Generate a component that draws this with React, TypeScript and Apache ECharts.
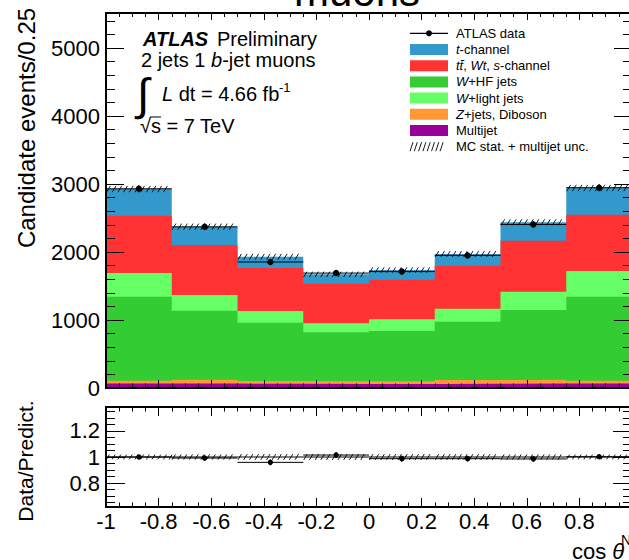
import React, { useEffect, useRef } from 'react';
import * as echarts from 'echarts';

const FONT = "'Liberation Sans', Arial, Helvetica, sans-serif";

// Bins of cos theta^N
const binLow = [-1, -0.75, -0.5, -0.25, 0, 0.25, 0.5, 0.75];
const binHigh = [-0.75, -0.5, -0.25, 0, 0.25, 0.5, 0.75, 1];

// Stacked MC components (bottom to top)
const multijet = [65, 65, 62, 60, 60, 62, 65, 65];
const zjetsDiboson = [40, 57, 40, 40, 40, 57, 57, 40];
const wHFJets = [1238, 1015, 858, 719, 738, 856, 1025, 1238];
const wLightJets = [348, 231, 172, 132, 172, 192, 270, 378];
const ttbarWtS = [843, 735, 633, 583, 583, 632, 750, 828];
const tChannel = [392, 270, 165, 138, 142, 172, 269, 392];

// MC stat + multijet uncertainty (absolute, events)
const mcUnc = [32, 30, 28, 25, 25, 28, 30, 32];

// Data
const atlasData = [2930, 2370, 1853, 1690, 1712, 1950, 2405, 2946];
const dataErr = [54, 49, 43, 41, 41, 44, 49, 54];

// Ratio panel
const ratio = [1.0, 0.992, 0.959, 1.015, 0.987, 0.987, 0.985, 1.002];
const ratioErr = [0.018, 0.021, 0.023, 0.024, 0.024, 0.022, 0.02, 0.018];

// Tick labels
const yTicksUpper = [0, 1000, 2000, 3000, 4000, 5000];
const yMinorUpper = Array.from({ length: 28 }, (_, i) => i * 200);
const yTicksLower = [0.8, 1, 1.2];
const yMinorLower = [0.65, 0.7, 0.75, 0.8, 0.85, 0.9, 0.95, 1, 1.05, 1.1, 1.15, 1.2, 1.25, 1.3, 1.35];

const COLORS = {
  tChannel: '#3399cc',
  ttbar: '#ff3333',
  wHF: '#33cc33',
  wLight: '#66ff66',
  zjets: '#ff9933',
  multijet: '#990099',
};

function App() {
  const ref = useRef<HTMLDivElement>(null);

  useEffect(() => {
    if (!ref.current) return;
    const chart = echarts.init(ref.current, null, { renderer: 'svg' });

    const parts = [multijet, zjetsDiboson, wHFJets, wLightJets, ttbarWtS, tChannel];
    const cum: number[][] = [];
    parts.forEach((p, k) => {
      cum.push(p.map((v, i) => v + (k > 0 ? cum[k - 1][i] : 0)));
    });
    const total = cum[cum.length - 1];

    const stepData = (vals: number[]) =>
      binLow.map((x, i) => [x, vals[i]]).concat([[binHigh[binHigh.length - 1], vals[vals.length - 1]]]);

    const areaSeries = (name: string, vals: number[], color: string) => ({
      name,
      type: 'line',
      xAxisIndex: 0,
      yAxisIndex: 0,
      step: 'end',
      data: stepData(vals),
      symbol: 'none',
      showSymbol: false,
      lineStyle: { width: 0, opacity: 0 },
      areaStyle: { color, opacity: 1 },
      silent: true,
      z: 2,
    });

    const hatchRender = (withCenter: boolean) => (params: any, api: any) => {
      const x0 = api.value(0), x1 = api.value(1), lo = api.value(2), hi = api.value(3);
      const a = api.coord([x0, lo]);
      const b = api.coord([x1, hi]);
      const left = a[0], right = b[0], bot = a[1], top = b[1];
      const h = bot - top + 2;
      const dx = Math.max(h * 0.6, 2.5);
      const children: any[] = [];
      for (let x = left + 0.5; x + dx <= right + 0.5; x += 5.7) {
        children.push({
          type: 'line',
          shape: { x1: x, y1: bot + 1, x2: x + dx, y2: top - 1 },
          style: { stroke: '#000', lineWidth: 0.9 },
        });
      }
      if (withCenter) {
        const c = api.coord([x0, (lo + hi) / 2]);
        children.push({
          type: 'line',
          shape: { x1: left, y1: c[1], x2: right, y2: c[1] },
          style: { stroke: '#000', lineWidth: 1 },
        });
      }
      return { type: 'group', children };
    };

    const pointRender = (r: number) => (params: any, api: any) => {
      const x0 = api.value(0), x1 = api.value(1), v = api.value(2), e = api.value(3);
      const xc = (x0 + x1) / 2;
      const c = api.coord([xc, v]);
      const l = api.coord([x0, v]);
      const rr = api.coord([x1, v]);
      const up = api.coord([xc, v + e]);
      const dn = api.coord([xc, v - e]);
      return {
        type: 'group',
        children: [
          { type: 'line', shape: { x1: l[0], y1: l[1], x2: rr[0], y2: rr[1] }, style: { stroke: '#000', lineWidth: 1 } },
          { type: 'line', shape: { x1: up[0], y1: up[1], x2: dn[0], y2: dn[1] }, style: { stroke: '#000', lineWidth: 1 } },
          { type: 'circle', shape: { cx: c[0], cy: c[1], r }, style: { fill: '#000' } },
        ],
      };
    };

    const xAx = (gridIndex: number, position: string, showLabel: boolean, len: number, minorLen: number) => ({
      type: 'value',
      gridIndex,
      position,
      min: -1,
      max: 1,
      interval: 0.2,
      axisLine: { show: true, onZero: false, lineStyle: { color: '#000', width: 2 } },
      axisTick: { show: true, inside: true, length: len, lineStyle: { color: '#000', width: 1 } },
      minorTick: { show: true, splitNumber: 4, length: minorLen, lineStyle: { color: '#000', width: 1 } },
      splitLine: { show: false },
      minorSplitLine: { show: false },
      axisLabel: {
        show: showLabel,
        fontSize: 22,
        color: '#000',
        fontFamily: FONT,
        margin: 3,
        showMaxLabel: false,
        showMinLabel: true,
        formatter: (v: number) => String(Math.round(v * 10) / 10),
      },
      z: 10,
    });

    const yAx = (
      gridIndex: number,
      position: string,
      min: number,
      max: number,
      ticks: number[],
      len: number,
      showLabel: boolean,
    ) => ({
      type: 'value',
      gridIndex,
      position,
      min,
      max,
      axisLine: { show: true, onZero: false, lineStyle: { color: '#000', width: 2 } },
      axisTick: { show: true, inside: true, length: len, customValues: ticks, lineStyle: { color: '#000', width: 1 } },
      axisLabel: {
        show: showLabel,
        customValues: ticks,
        fontSize: 22,
        color: '#000',
        fontFamily: FONT,
        margin: 6,
        formatter: (v: number) => String(v),
      },
      splitLine: { show: false },
      z: 10,
    });

    const UP_MAX = 5515;
    const LO_MIN = 0.617;
    const LO_MAX = 1.383;

    const txt = (x: number, y: number, text: string, size: number, extra: any = {}) => ({
      type: 'text',
      x,
      y,
      z: 100,
      style: {
        text,
        fontSize: size,
        fontFamily: FONT,
        fill: '#000',
        align: 'left',
        verticalAlign: 'middle',
        ...extra,
      },
    });

    const italicRich = (size: number) => ({
      i: { fontStyle: 'italic', fontSize: size, fontFamily: FONT, fill: '#000' },
    });

    const legendItems = [
      { label: 'ATLAS data', kind: 'data' },
      { label: '{i|t}-channel', kind: 'box', color: COLORS.tChannel },
      { label: '{i|tt\u0304}, {i|Wt}, {i|s}-channel', kind: 'box', color: COLORS.ttbar },
      { label: '{i|W}+HF jets', kind: 'box', color: COLORS.wHF },
      { label: '{i|W}+light jets', kind: 'box', color: COLORS.wLight },
      { label: '{i|Z}+jets, Diboson', kind: 'box', color: COLORS.zjets },
      { label: 'Multijet', kind: 'box', color: COLORS.multijet },
      { label: 'MC stat. + multijet unc.', kind: 'hatch' },
    ];
    const legendEls: any[] = [];
    legendItems.forEach((it, i) => {
      const yc = 33.3 + 16.2 * i;
      if (it.kind === 'data') {
        legendEls.push({ type: 'line', z: 100, shape: { x1: 410, y1: yc, x2: 448, y2: yc }, style: { stroke: '#000', lineWidth: 1.2 } });
        legendEls.push({ type: 'circle', z: 100, shape: { cx: 429, cy: yc, r: 3 }, style: { fill: '#000' } });
      } else if (it.kind === 'box') {
        legendEls.push({ type: 'rect', z: 100, shape: { x: 410, y: yc - 5.5, width: 38, height: 11 }, style: { fill: it.color } });
      } else {
        for (let x = 410; x <= 444; x += 4.3) {
          legendEls.push({ type: 'line', z: 100, shape: { x1: x, y1: yc + 4.5, x2: x + 3, y2: yc - 4.5 }, style: { stroke: '#000', lineWidth: 0.9 } });
        }
      }
      legendEls.push(txt(456, yc, it.label, 13, { rich: italicRich(13) }));
    });

    const option: any = {
      animation: false,
      backgroundColor: '#fff',
      grid: [
        { left: 106, right: -3, top: 13, height: 375, outerBoundsMode: 'none', containLabel: false },
        { left: 106, right: -3, top: 407, height: 100, outerBoundsMode: 'none', containLabel: false },
      ],
      xAxis: [
        xAx(0, 'bottom', false, 8, 4.5),
        xAx(0, 'top', false, 7, 4),
        xAx(1, 'bottom', true, 9, 4.5),
        xAx(1, 'top', false, 9, 4.5),
      ],
      yAxis: [
        yAx(0, 'left', 0, UP_MAX, yTicksUpper, 18, true),
        yAx(0, 'left', 0, UP_MAX, yMinorUpper, 9, false),
        yAx(0, 'right', 0, UP_MAX, yTicksUpper, 18, false),
        yAx(0, 'right', 0, UP_MAX, yMinorUpper, 9, false),
        yAx(1, 'left', LO_MIN, LO_MAX, yTicksLower, 19, true),
        yAx(1, 'left', LO_MIN, LO_MAX, yMinorLower, 9, false),
        yAx(1, 'right', LO_MIN, LO_MAX, yTicksLower, 19, false),
        yAx(1, 'right', LO_MIN, LO_MAX, yMinorLower, 9, false),
      ],
      series: [
        areaSeries('t-channel', cum[5], COLORS.tChannel),
        areaSeries('tt, Wt, s-channel', cum[4], COLORS.ttbar),
        areaSeries('W+light jets', cum[3], COLORS.wLight),
        areaSeries('W+HF jets', cum[2], COLORS.wHF),
        areaSeries('Z+jets, Diboson', cum[1], COLORS.zjets),
        areaSeries('Multijet', cum[0], COLORS.multijet),
        {
          name: 'MC stat. + multijet unc.',
          type: 'custom',
          xAxisIndex: 0,
          yAxisIndex: 0,
          renderItem: hatchRender(false),
          data: binLow.map((x, i) => [x, binHigh[i], total[i] - mcUnc[i], total[i] + mcUnc[i]]),
          silent: true,
          z: 5,
        },
        {
          name: 'ATLAS data',
          type: 'custom',
          xAxisIndex: 0,
          yAxisIndex: 0,
          renderItem: pointRender(3.2),
          data: binLow.map((x, i) => [x, binHigh[i], atlasData[i], dataErr[i]]),
          silent: true,
          z: 6,
        },
        {
          name: 'ratio unc',
          type: 'custom',
          xAxisIndex: 2,
          yAxisIndex: 4,
          renderItem: hatchRender(true),
          data: binLow.map((x, i) => [x, binHigh[i], 1 - mcUnc[i] / total[i], 1 + mcUnc[i] / total[i]]),
          silent: true,
          z: 5,
        },
        {
          name: 'ratio',
          type: 'custom',
          xAxisIndex: 2,
          yAxisIndex: 4,
          renderItem: pointRender(2.7),
          data: binLow.map((x, i) => [x, binHigh[i], ratio[i], ratioErr[i]]),
          silent: true,
          z: 6,
        },
      ],
      graphic: [
        txt(357, -9, 'muons', 42, { align: 'center' }),
        {
          type: 'text',
          x: 26,
          y: 128,
          rotation: Math.PI / 2,
          z: 100,
          style: { text: 'Candidate events/0.25', fontSize: 24, fontFamily: FONT, fill: '#000', align: 'center', verticalAlign: 'middle' },
        },
        {
          type: 'text',
          x: 25,
          y: 461,
          rotation: Math.PI / 2,
          z: 100,
          style: { text: 'Data/Predict.', fontSize: 21, fontFamily: FONT, fill: '#000', align: 'center', verticalAlign: 'middle' },
        },
        txt(143, 38.5, 'ATLAS', 20, { fontWeight: 'bold', fontStyle: 'italic' }),
        txt(217, 38.5, 'Preliminary', 20),
        txt(141, 60, '2 jets 1 {i|b}-jet muons', 20, { rich: italicRich(20) }),
        txt(137, 94, '\u222B', 45),
        txt(162, 94, '{i|L} dt = 4.66 fb', 20, { rich: italicRich(20) }),
        txt(279, 87, '-1', 13),
        txt(140, 126, '\u221As = 7 TeV', 20),
        { type: 'line', z: 100, shape: { x1: 150, y1: 117, x2: 161, y2: 117 }, style: { stroke: '#000', lineWidth: 1 } },
        txt(572, 551, 'cos {i|\u03B8}', 22, { rich: italicRich(22) }),
        txt(621, 540, 'N', 14),
        ...legendEls,
      ],
    };

    chart.setOption(option);
    return () => chart.dispose();
  }, []);

  return (
    <div
      ref={ref}
      style={{ position: 'fixed', left: 0, top: 0, width: 629, height: 560, background: '#fff' }}
    />
  );
}

export default App;
